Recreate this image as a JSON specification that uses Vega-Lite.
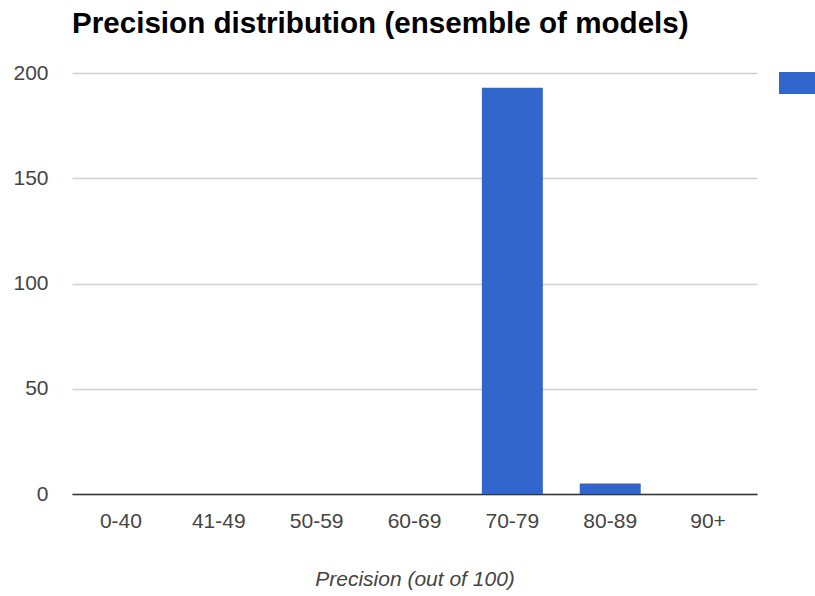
{
  "$schema": "https://vega.github.io/schema/vega-lite/v6.json",
  "width": 685,
  "height": 421,
  "autosize": {"type": "none"},
  "padding": {"left": 72, "top": 73, "right": 58, "bottom": 102},
  "background": "white",
  "config": {"view": {"stroke": null}},
  "title": {
    "text": "Precision distribution (ensemble of models)",
    "anchor": "start",
    "frame": "group",
    "font": "Liberation Sans",
    "fontSize": 29.6,
    "fontWeight": "bold",
    "color": "#000000",
    "baseline": "alphabetic",
    "offset": -2
  },
  "data": {
    "values": [
      {"range": "0-40", "count": 0, "series": "Models"},
      {"range": "41-49", "count": 0, "series": "Models"},
      {"range": "50-59", "count": 0, "series": "Models"},
      {"range": "60-69", "count": 0, "series": "Models"},
      {"range": "70-79", "count": 193, "series": "Models"},
      {"range": "80-89", "count": 5, "series": "Models"},
      {"range": "90+", "count": 0, "series": "Models"}
    ]
  },
  "mark": {"type": "bar"},
  "encoding": {
    "x": {
      "field": "range",
      "type": "ordinal",
      "sort": null,
      "scale": {"paddingInner": 0.377, "paddingOuter": 0.1885},
      "axis": {
        "title": "Precision (out of 100)",
        "titleFont": "Liberation Sans",
        "titleFontSize": 21,
        "titleFontStyle": "italic",
        "titleFontWeight": "normal",
        "titleColor": "#444444",
        "titlePadding": 37,
        "labelFont": "Liberation Sans",
        "labelFontSize": 21,
        "labelColor": "#444444",
        "labelAngle": 0,
        "labelPadding": 16,
        "ticks": false,
        "domain": true,
        "domainColor": "#333333",
        "domainWidth": 1.5,
        "grid": false
      }
    },
    "y": {
      "field": "count",
      "type": "quantitative",
      "scale": {"domain": [0, 200], "nice": false},
      "axis": {
        "title": null,
        "values": [0, 50, 100, 150, 200],
        "labelFont": "Liberation Sans",
        "labelFontSize": 21,
        "labelColor": "#444444",
        "labelPadding": 24,
        "ticks": false,
        "domain": false,
        "grid": true,
        "gridColor": "#d0d0d0",
        "gridWidth": 1.5
      }
    },
    "color": {
      "field": "series",
      "type": "nominal",
      "scale": {"range": ["#3366cc"]},
      "legend": {
        "title": null,
        "orient": "none",
        "legendX": 707,
        "legendY": -12,
        "padding": 0,
        "symbolType": "M-1,-0.5H1V0.5H-1Z",
        "symbolSize": 1936,
        "symbolStrokeWidth": 0,
        "labelExpr": "''",
        "labelFontSize": 1
      }
    }
  }
}
